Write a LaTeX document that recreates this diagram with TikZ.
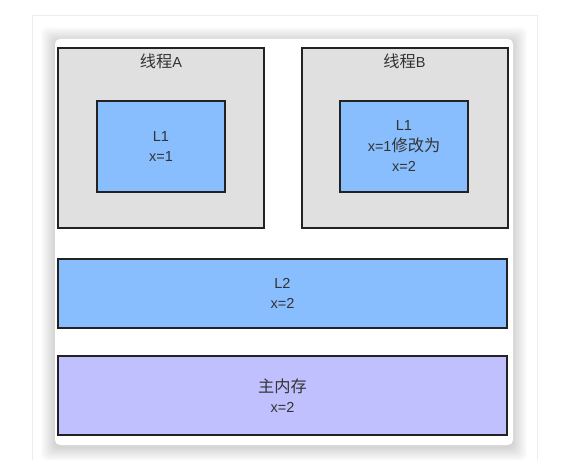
\documentclass[tikz,border=0pt]{standalone}
\usepackage{fontspec}
\setmainfont{Liberation Sans}
\newfontfamily\cjk[Scale=1.12]{Noto Sans CJK SC}
\definecolor{edgec}{HTML}{222222}
\definecolor{txtc}{HTML}{333333}
\definecolor{grayf}{HTML}{E0E0E0}
\definecolor{bluef}{HTML}{89BEFE}
\definecolor{purpf}{HTML}{C1C0FE}
\begin{document}
\begin{tikzpicture}[x=1pt,y=-1pt,
  box/.style={draw=edgec, line width=2pt, inner sep=0pt, align=center, text=txtc,
    font=\fontsize{14.5}{20.5}\selectfont},
  lbl/.style={text=txtc, inner sep=0pt, font=\fontsize{14.5}{20.5}\selectfont}]
\useasboundingbox (0,0) rectangle (571,460);
% outer panel
\draw[draw=black!7, fill=white, line width=1pt] (32,16) rectangle (537,475);
% soft shadow of the card
\foreach \i in {1,...,14} {
  \fill[black, opacity=0.010, rounded corners=6] (55-\i,39-\i+2) rectangle (513+\i,445+\i+2);
}
\fill[white, rounded corners=5] (55,39) rectangle (513,445);
% thread boxes
\node[box, fill=grayf, minimum width=206pt, minimum height=179pt] (ta) at (161,138) {};
\node[box, fill=grayf, minimum width=206pt, minimum height=179pt] (tb) at (404.5,138) {};
\node[lbl] (tal) at (161,61) {{\cjk 线程}A};
\node[lbl] (tbl) at (404.5,61) {{\cjk 线程}B};
% L1 caches
\node[box, fill=bluef, minimum width=128pt, minimum height=91pt] (l1a) at (161,146.5) {L1\\x=1};
\node[box, fill=bluef, minimum width=128pt, minimum height=91pt] (l1b) at (404,146.5) {L1\\x=1{\cjk 修改为}\\x=2};
% L2
\node[box, fill=bluef, minimum width=449pt, minimum height=69pt] (l2) at (282.5,293.5) {L2\\x=2};
% main memory
\node[box, fill=purpf, minimum width=449pt, minimum height=79pt] (mm) at (282.5,395.5) {{\cjk 主内存}\\x=2};
\end{tikzpicture}
\end{document}
